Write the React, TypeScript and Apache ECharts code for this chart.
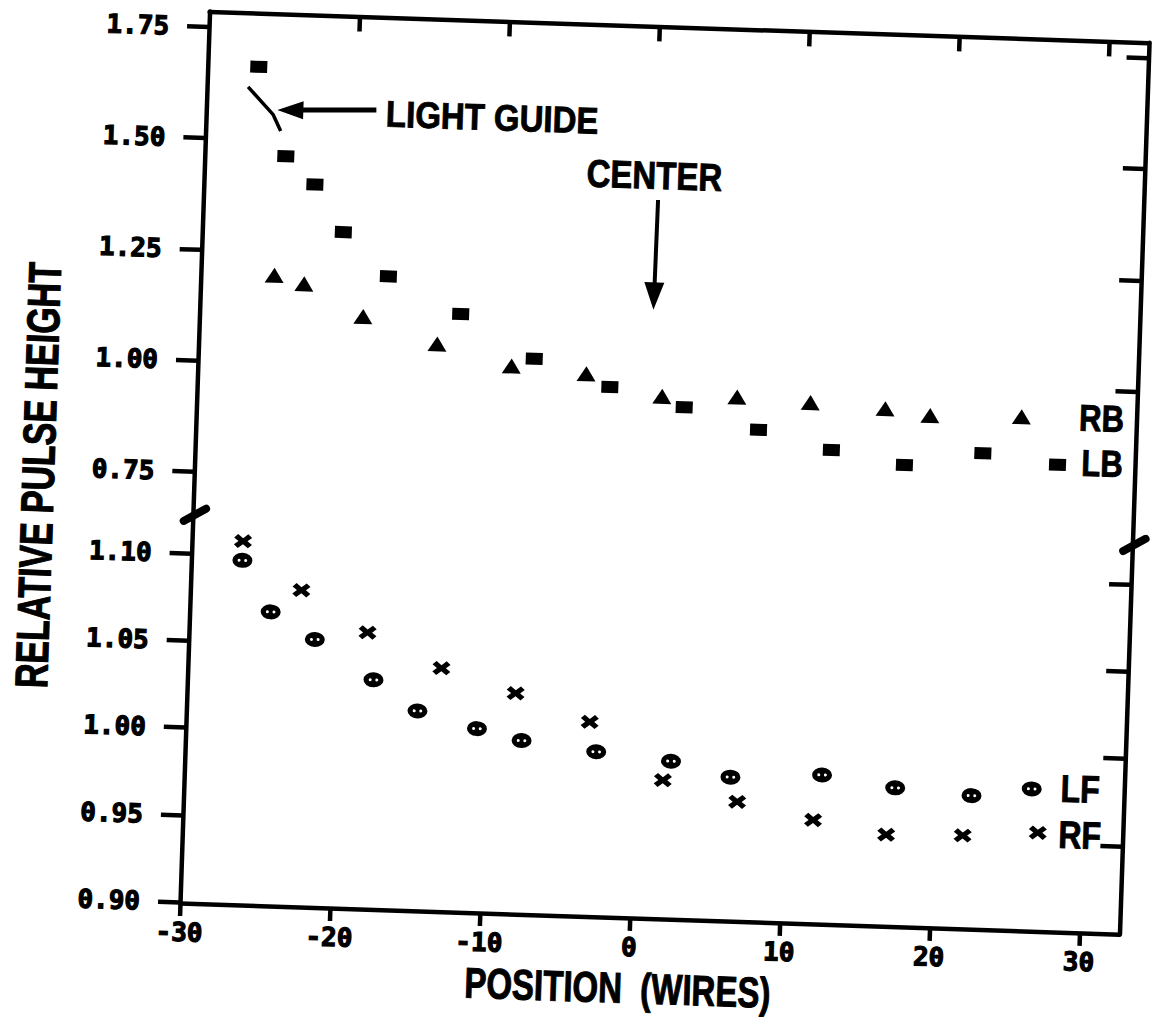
import React, { useEffect, useRef } from "react";
import * as echarts from "echarts";

// Relative pulse height vs. position (wires) for the four photomultipliers.
// Back tubes (upper panel)
const lbX = [-26.6, -24.6, -22.6, -20.6, -17.5, -12.6, -7.6, -2.5, 2.5, 7.5, 12.4, 17.3, 22.5, 27.5];
const lbY = [1.664, 1.465, 1.404, 1.299, 1.203, 1.124, 1.029, 0.971, 0.931, 0.886, 0.846, 0.818, 0.85, 0.83];
const rbX = [-25.1, -23.1, -19.1, -14.1, -9.1, -4.1, 1.0, 6.0, 10.9, 15.9, 18.9, 25.0];
const rbY = [1.197, 1.18, 1.111, 1.055, 1.011, 0.999, 0.954, 0.958, 0.951, 0.943, 0.931, 0.935];
// Front tubes (lower panel)
const lfX = [-26.6, -24.6, -21.6, -17.6, -14.6, -10.6, -7.6, -2.6, 2.4, 6.4, 12.5, 17.4, 22.5, 26.5];
const lfY = [1.097, 1.068, 1.053, 1.031, 1.014, 1.005, 0.999, 0.994, 0.99, 0.982, 0.985, 0.979, 0.976, 0.981];
const rfX = [-26.6, -22.6, -18.1, -13.1, -8.1, -3.1, 1.9, 6.9, 12.0, 16.9, 22.0, 27.0];
const rfY = [1.108, 1.081, 1.058, 1.039, 1.026, 1.011, 0.979, 0.968, 0.959, 0.952, 0.953, 0.956];

const xTicks = [-30, -20, -10, 0, 10, 20, 30];
const upperTicks = [0.75, 1.0, 1.25, 1.5, 1.75];
const upperRightTicks = [1.0, 1.25, 1.5, 1.75];
const lowerTicks = [0.9, 0.95, 1.0, 1.05, 1.1];
const lowerRightTicks = [0.95, 1.0, 1.05, 1.1];

const INK = "#000";
const AXIS_W = 4.5;
const TICK_FONT = "'DejaVu Sans Mono', monospace";
const TEXT_FONT = "'Liberation Sans', Arial, sans-serif";
const TILT_DEG = 1.9;

const LF_SYMBOL =
  "path://M0,7.5A10,7.5 0 1,1 20,7.5A10,7.5 0 1,1 0,7.5ZM5.2,7.5A1.5,1.5 0 1,0 8.2,7.5A1.5,1.5 0 1,0 5.2,7.5ZM11.8,7.5A1.5,1.5 0 1,0 14.8,7.5A1.5,1.5 0 1,0 11.8,7.5Z";
const RF_SYMBOL =
  "path://M0,3.5L3.5,0L8,4L12.5,0L16,3.5L12,7L16,10.5L12.5,14L8,10L3.5,14L0,10.5L4,7Z";

const pair = (xs: number[], ys: number[]) => xs.map((x, i) => [x, ys[i]]);

const lineStyle = { color: INK, width: AXIS_W };

const tickLabel = {
  fontFamily: TICK_FONT,
  fontWeight: "bold" as const,
  fontSize: 26,
  color: INK,
  textBorderColor: INK,
  textBorderWidth: 1.2,
};

const markStyle = { color: INK, opacity: 1 };

function label(text: string, x: number, y: number, size: number, scaleY: number, rotation = 0) {
  return {
    type: "text",
    x,
    y,
    rotation,
    scaleY,
    style: {
      text,
      fill: INK,
      stroke: INK,
      lineWidth: 0.8,
      fontFamily: TEXT_FONT,
      fontWeight: "bold",
      fontSize: size,
      align: "center",
      verticalAlign: "middle",
      textAlign: "center",
      textVerticalAlign: "middle",
    },
  };
}

const option = {
  animation: false,
  backgroundColor: "#fff",
  grid: [
    { left: 180, top: 11, width: 940, height: 503 },
    { left: 180, top: 514, width: 940, height: 389 },
  ],
  xAxis: [
    {
      gridIndex: 0,
      type: "value",
      position: "top",
      min: -30,
      max: 32.667,
      axisLine: { show: true, onZero: false, lineStyle },
      axisTick: { show: true, inside: true, length: 15, customValues: xTicks.slice(1), lineStyle },
      axisLabel: { show: false },
      splitLine: { show: false },
    },
    {
      gridIndex: 1,
      type: "value",
      position: "bottom",
      min: -30,
      max: 32.667,
      axisLine: { show: true, onZero: false, lineStyle },
      axisTick: { show: true, inside: false, length: 13, customValues: xTicks, lineStyle },
      axisLabel: {
        show: true,
        customValues: xTicks,
        margin: 16,
        formatter: (v: number) => String(v),
        ...tickLabel,
      },
      splitLine: { show: false },
    },
  ],
  yAxis: [
    {
      gridIndex: 0,
      type: "value",
      position: "left",
      min: 0.6543,
      max: 1.7846,
      axisLine: { show: true, onZero: false, lineStyle },
      axisTick: { show: true, inside: false, length: 22, customValues: upperTicks, lineStyle },
      axisLabel: {
        show: true,
        customValues: upperTicks,
        margin: 40,
        formatter: (v: number) => Number(v).toFixed(2),
        ...tickLabel,
      },
      splitLine: { show: false },
    },
    {
      gridIndex: 0,
      type: "value",
      position: "right",
      min: 0.6543,
      max: 1.7846,
      axisLine: { show: true, onZero: false, lineStyle },
      axisTick: { show: true, inside: true, length: 22, customValues: upperRightTicks, lineStyle },
      axisLabel: { show: false },
      splitLine: { show: false },
    },
    {
      gridIndex: 1,
      type: "value",
      position: "left",
      min: 0.8994,
      max: 1.1225,
      axisLine: { show: true, onZero: false, lineStyle },
      axisTick: { show: true, inside: false, length: 22, customValues: lowerTicks, lineStyle },
      axisLabel: {
        show: true,
        customValues: lowerTicks,
        margin: 40,
        formatter: (v: number) => Number(v).toFixed(2),
        ...tickLabel,
      },
      splitLine: { show: false },
    },
    {
      gridIndex: 1,
      type: "value",
      position: "right",
      min: 0.8994,
      max: 1.1225,
      axisLine: { show: true, onZero: false, lineStyle },
      axisTick: { show: true, inside: true, length: 22, customValues: lowerRightTicks, lineStyle },
      axisLabel: { show: false },
      splitLine: { show: false },
    },
  ],
  series: [
    {
      name: "LB",
      type: "scatter",
      xAxisIndex: 0,
      yAxisIndex: 0,
      data: pair(lbX, lbY),
      symbol: "rect",
      symbolSize: [17, 12],
      itemStyle: markStyle,
    },
    {
      name: "RB",
      type: "scatter",
      xAxisIndex: 0,
      yAxisIndex: 0,
      data: pair(rbX, rbY),
      symbol: "triangle",
      symbolSize: [19, 15],
      itemStyle: markStyle,
    },
    {
      name: "LF",
      type: "scatter",
      xAxisIndex: 1,
      yAxisIndex: 2,
      data: pair(lfX, lfY),
      symbol: LF_SYMBOL,
      symbolSize: [20, 15],
      itemStyle: markStyle,
    },
    {
      name: "RF",
      type: "scatter",
      xAxisIndex: 1,
      yAxisIndex: 2,
      data: pair(rfX, rfY),
      symbol: RF_SYMBOL,
      symbolSize: [18, 14],
      itemStyle: markStyle,
    },
  ],
  graphic: [
    // axis break marks
    {
      type: "line",
      shape: { x1: 171, y1: 521, x2: 193, y2: 508 },
      style: { stroke: INK, lineWidth: 8, lineCap: "round" },
    },
    {
      type: "line",
      shape: { x1: 1111, y1: 520, x2: 1133, y2: 507 },
      style: { stroke: INK, lineWidth: 8, lineCap: "round" },
    },
    // light guide pointer
    {
      type: "polyline",
      shape: { points: [[221, 85], [247, 112], [255, 128]] },
      style: { stroke: INK, lineWidth: 3.5, fill: null },
    },
    {
      type: "line",
      shape: { x1: 270, y1: 106.6, x2: 350, y2: 104 },
      style: { stroke: INK, lineWidth: 5 },
    },
    {
      type: "polygon",
      shape: { points: [[251, 107.2], [277, 97.5], [277, 115.5]] },
      style: { fill: INK },
    },
    label("LIGHT GUIDE", 466, 107, 33, 1.12),
    // centre marker
    label("CENTER", 630, 160, 33, 1.17),
    {
      type: "line",
      shape: { x1: 634.5, y1: 184.5, x2: 633.8, y2: 272 },
      style: { stroke: INK, lineWidth: 4 },
    },
    {
      type: "polygon",
      shape: { points: [[633.5, 294.5], [623.5, 267], [643.5, 267]] },
      style: { fill: INK },
    },
    // series tags
    label("RB", 1085, 388, 31, 1.2),
    label("LB", 1087, 433, 31, 1.2),
    label("LF", 1076, 759, 32, 1.2),
    label("RF", 1077, 805, 32, 1.2),
    // axis titles
    label("RELATIVE PULSE HEIGHT", 24, 480, 34, 1.35, Math.PI / 2),
    label("POSITION  (WIRES)", 620, 973, 33, 1.3),
  ],
};

export default function App() {
  const ref = useRef<HTMLDivElement>(null);
  useEffect(() => {
    const chart = echarts.init(ref.current!, null, { renderer: "svg" });
    chart.setOption(option as any);
    return () => chart.dispose();
  }, []);
  return (
    <div
      style={{
        position: "fixed",
        left: 0,
        top: 0,
        width: 1159,
        height: 1025,
        overflow: "hidden",
        background: "#fff",
      }}
    >
      <div
        ref={ref}
        style={{
          width: 1159,
          height: 1025,
          transform: `rotate(${TILT_DEG}deg)`,
          transformOrigin: "180px 903px",
        }}
      />
    </div>
  );
}
